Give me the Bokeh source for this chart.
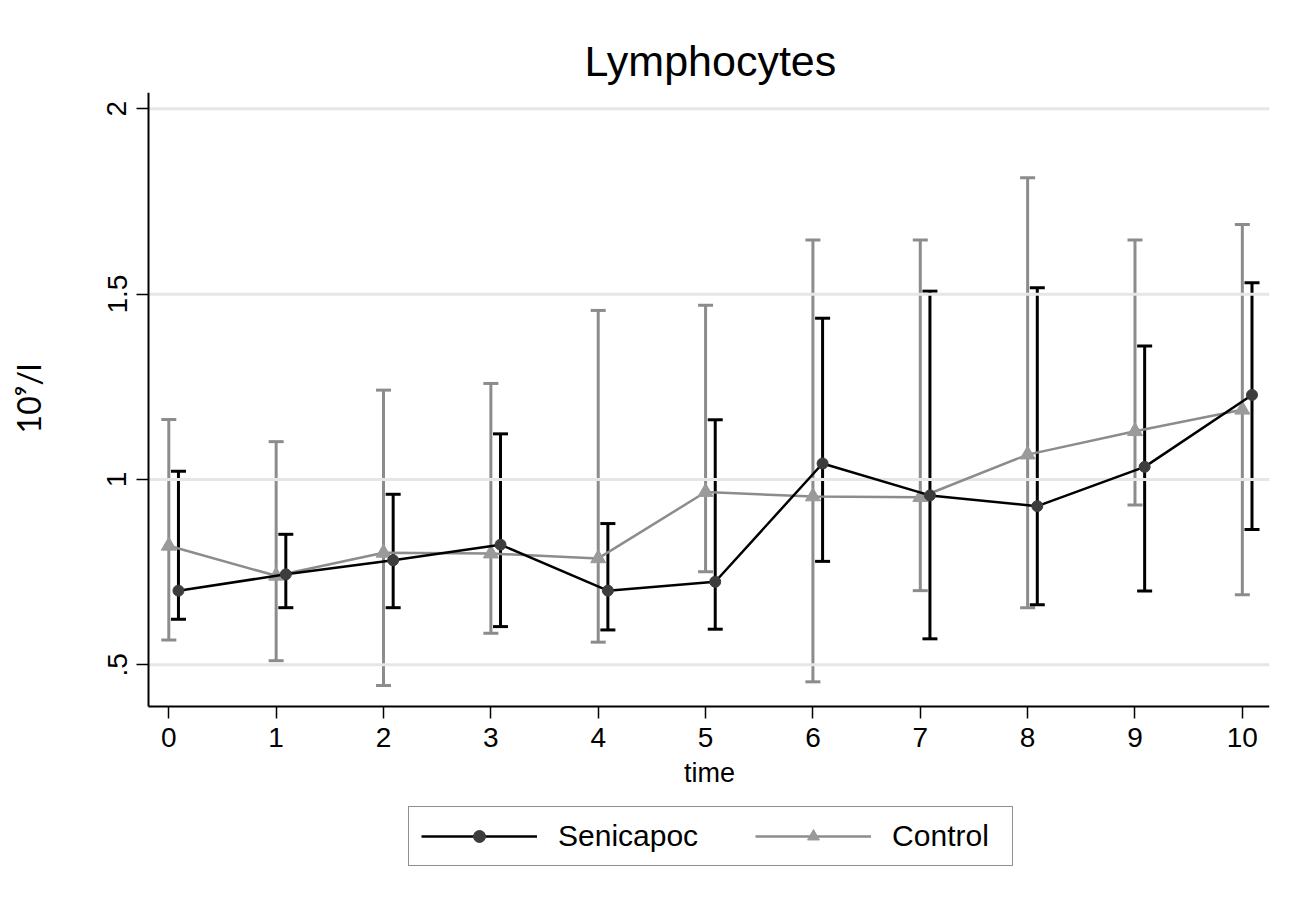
import math
from bokeh.plotting import figure
from bokeh.models import (Range1d, FixedTicker, Whisker, TeeHead, ColumnDataSource,
                          Legend, LegendItem, Label)
from bokeh.embed import file_html
from bokeh.resources import INLINE

# ---- data ----
time = [0, 1, 2, 3, 4, 5, 6, 7, 8, 9, 10]

sen_mean = [0.70, 0.744, 0.782, 0.824, 0.70, 0.724, 1.043, 0.957, 0.928, 1.034, 1.228]
sen_low = [0.623, 0.654, 0.654, 0.603, 0.594, 0.596, 0.779, 0.570, 0.662, 0.699, 0.865]
sen_high = [1.022, 0.852, 0.960, 1.123, 0.881, 1.161, 1.435, 1.508, 1.517, 1.360, 1.531]

ctl_mean = [0.821, 0.740, 0.802, 0.800, 0.787, 0.966, 0.954, 0.952, 1.067, 1.130, 1.188]
ctl_low = [0.567, 0.511, 0.444, 0.585, 0.561, 0.751, 0.454, 0.700, 0.654, 0.931, 0.689]
ctl_high = [1.162, 1.102, 1.241, 1.259, 1.456, 1.470, 1.646, 1.646, 1.814, 1.646, 1.688]

x_ticks = [0, 1, 2, 3, 4, 5, 6, 7, 8, 9, 10]
y_ticks = [0.5, 1, 1.5, 2]
y_tick_labels = [".5", "1", "1.5", "2"]

x_axis_min, x_axis_max = -0.189, 10.253   # extent of the time axis
y_axis_min, y_axis_max = 0.3875, 2.044    # extent of the value axis
sen_shift = 0.09      # Senicapoc drawn slightly to the right of each time point

FONT = "Liberation Sans"
BLACK = "#000000"
GRAY = "#8c8c8c"

sen_src = ColumnDataSource(dict(x=[t + sen_shift for t in time], y=sen_mean,
                                lo=sen_low, hi=sen_high))
ctl_src = ColumnDataSource(dict(x=time, y=ctl_mean, lo=ctl_low, hi=ctl_high))

# The frame covers the whole page (minus margins); the axes are pinned with
# fixed_location/bounds so titles and the legend can sit around them inside it.
p = figure(width=1302, height=909, output_backend="svg", toolbar_location=None,
           x_range=Range1d(-1.5677, x_axis_max), y_range=Range1d(-0.1333, y_axis_max),
           min_border_left=0, min_border_right=33, min_border_top=92,
           min_border_bottom=10)

p.outline_line_color = None
p.background_fill_color = "white"
p.border_fill_color = "white"

# title
p.title.text = "Lymphocytes"
p.title.align = "left"
p.title.offset = 584
p.title.text_font = FONT
p.title.text_font_size = "43px"
p.title.text_font_style = "normal"
p.title.text_color = "black"
p.title.standoff = 15

# grid lines only across the plotted region
p.xgrid.visible = False
p.ygrid.visible = False
p.segment(x0=[x_axis_min] * len(y_ticks), x1=[x_axis_max] * len(y_ticks),
          y0=y_ticks, y1=y_ticks, line_color="#e6e6e6", line_width=3)

# axes
for ax in (p.xaxis[0], p.yaxis[0]):
    ax.axis_line_width = 2
    ax.axis_line_color = "black"
    ax.major_tick_line_color = "black"
    ax.major_tick_line_width = 1.5
    ax.major_tick_out = 12
    ax.major_tick_in = 0
    ax.minor_tick_line_color = None
    ax.major_label_text_font = FONT
    ax.major_label_text_font_size = "28px"
    ax.major_label_text_color = "black"
    ax.major_label_standoff = 10

p.xaxis.ticker = FixedTicker(ticks=x_ticks)
p.xaxis.fixed_location = y_axis_min
p.xaxis.bounds = (x_axis_min, x_axis_max)

p.yaxis.ticker = FixedTicker(ticks=y_ticks)
p.yaxis.fixed_location = x_axis_min
p.yaxis.bounds = (y_axis_min, y_axis_max)
p.yaxis.major_label_overrides = {v: s for v, s in zip(y_ticks, y_tick_labels)}
p.yaxis.major_label_orientation = "vertical"

# axis titles (screen offsets from the frame's bottom-left corner)
p.add_layout(Label(x=709, y=127, x_units="screen", y_units="screen", text="time",
                   text_font=FONT, text_font_size="27px", text_color="black",
                   text_align="center", text_baseline="alphabetic"))
p.add_layout(Label(x=28, y=501, x_units="screen", y_units="screen", text="10⁹/l",
                   angle=math.pi / 2, text_font="Lato", text_font_size="32px",
                   text_color="black", text_align="center", text_baseline="alphabetic"))

# control (gray) first
ctl_w = Whisker(base="x", lower="lo", upper="hi", source=ctl_src,
                line_color=GRAY, line_width=3,
                upper_head=TeeHead(size=15, line_color=GRAY, line_width=3),
                lower_head=TeeHead(size=15, line_color=GRAY, line_width=3))
p.add_layout(ctl_w)
ctl_line = p.line("x", "y", source=ctl_src, line_color=GRAY, line_width=2.5)
ctl_mark = p.scatter("x", "y", source=ctl_src, marker="triangle", size=15,
                     fill_color="#9a9a9a", line_color="#9a9a9a")

# senicapoc (black)
sen_w = Whisker(base="x", lower="lo", upper="hi", source=sen_src,
                line_color=BLACK, line_width=3,
                upper_head=TeeHead(size=15, line_color=BLACK, line_width=3),
                lower_head=TeeHead(size=15, line_color=BLACK, line_width=3))
p.add_layout(sen_w)
sen_line = p.line("x", "y", source=sen_src, line_color=BLACK, line_width=2.5)
sen_mark = p.scatter("x", "y", source=sen_src, marker="circle", size=11,
                     fill_color="#3d3d3d", line_color="#3d3d3d")

legend = Legend(items=[LegendItem(label="Senicapoc", renderers=[sen_line, sen_mark]),
                       LegendItem(label="Control", renderers=[ctl_line, ctl_mark])],
                orientation="horizontal", location=(408, 33))
legend.label_text_font = FONT
legend.label_text_font_size = "30px"
legend.label_text_color = "black"
legend.glyph_width = 116
legend.glyph_height = 30
legend.label_standoff = 21
legend.label_width = 108
legend.spacing = 57
legend.padding = 12
legend.margin = 0
legend.border_line_color = "#222222"
legend.border_line_width = 1.5
legend.background_fill_color = "white"
legend.background_fill_alpha = 1
p.add_layout(legend)

open("out.html", "w").write(file_html(p, INLINE))
